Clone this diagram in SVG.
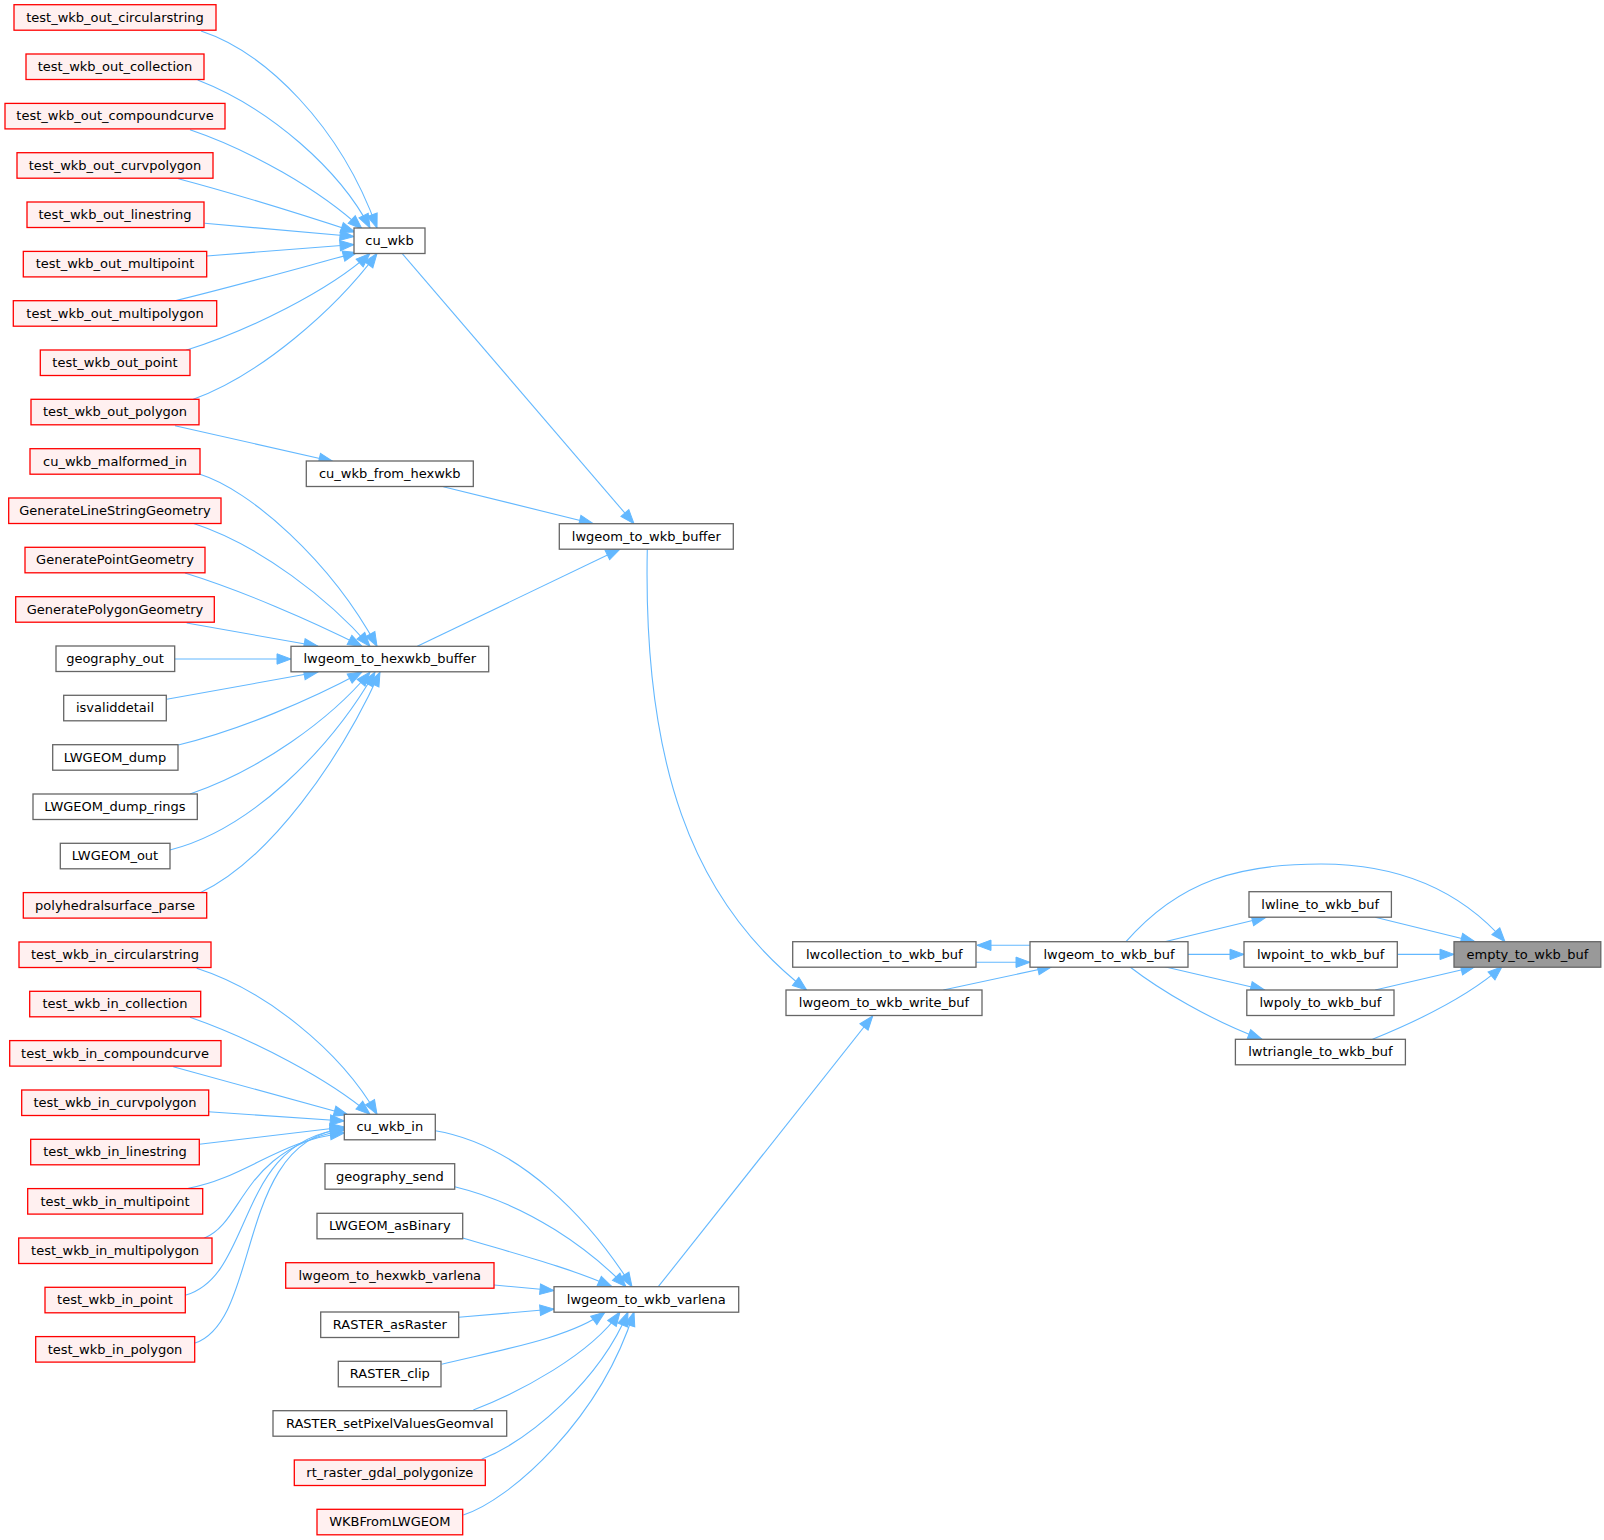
<svg xmlns="http://www.w3.org/2000/svg" width="1604" height="1540" viewBox="0 0 1604 1540">
<style>
rect{stroke-width:1.3}
.n rect{fill:#ffffff;stroke:#666666}
.r rect{fill:#fff0f0;stroke:#ff0000}
.root rect{fill:#999999;stroke:#666666}
text{font-family:"DejaVu Sans","Liberation Sans",sans-serif;font-size:13px;text-anchor:middle;fill:#000000}
#edges path{fill:none;stroke:#63b8ff;stroke-width:1.1;marker-end:url(#ah)}
</style>
<defs>
<marker id="ah" markerUnits="userSpaceOnUse" markerWidth="16" markerHeight="12" refX="14" refY="6" orient="auto" viewBox="0 0 16 12" overflow="visible">
<path d="M0,0.8 L14,6 L0,11.2 Z" fill="#63b8ff" stroke="#63b8ff" stroke-width="1"/>
</marker>
</defs>
<rect x="0" y="0" width="1604" height="1540" fill="#ffffff" stroke="none"/>
<g id="edges">
<path d="M201,31 C265,52 340,125 377,228"/>
<path d="M197.7,80 C270,108 340,170 370,228"/>
<path d="M190,129.7 C250,150 320,190 362,229"/>
<path d="M178.3,178.7 C240,195 300,214 355,232"/>
<path d="M204.7,223.3 L354,236.5"/>
<path d="M206.7,256 L354,244.5"/>
<path d="M174,301 C240,285 310,265 357,252.5"/>
<path d="M186,350.3 C250,330 330,290 370,253.5"/>
<path d="M193.3,399.3 C260,375 335,310 377,253.5"/>
<path d="M175,425.7 L333,461.5"/>
<path d="M200,474.3 C250,490 330,560 377,646.3"/>
<path d="M193,523.3 C260,545 330,600 370,646.3"/>
<path d="M185,573 C240,590 310,620 362,646.3"/>
<path d="M186.7,623 L318,646.3"/>
<path d="M174.7,659 L291,659"/>
<path d="M166.7,699.3 L318,672"/>
<path d="M178.3,745 C240,730 310,700 362,672"/>
<path d="M190,794 C260,770 330,720 370,672"/>
<path d="M170,850 C250,830 330,750 375,672"/>
<path d="M199.3,893.3 C270,860 340,760 380,672"/>
<path d="M196.7,968.3 C265,990 340,1050 377,1114.3"/>
<path d="M190,1017.3 C255,1040 330,1080 370,1114.3"/>
<path d="M173.3,1066.7 L348,1114.8"/>
<path d="M208.3,1111.7 L344.3,1121"/>
<path d="M199.3,1144.3 L344.3,1127"/>
<path d="M188.3,1188.3 C245,1178 280,1140 344.3,1133"/>
<path d="M204,1238.3 C245,1222 240,1150 344.3,1130"/>
<path d="M186,1295 C255,1275 235,1140 344.3,1129"/>
<path d="M195,1343 C262,1320 235,1140 344.3,1128.5"/>
<path d="M435.3,1130.7 C520,1145 590,1220 632,1286.7"/>
<path d="M454.7,1186.7 C530,1205 590,1250 626,1286.7"/>
<path d="M462.7,1238 C520,1255 570,1268 612,1286.7"/>
<path d="M494,1285 L554,1290.5"/>
<path d="M458.7,1317.3 L554,1309"/>
<path d="M441.7,1364.3 C500,1350 570,1338 605,1312"/>
<path d="M473.3,1410 C520,1392 590,1355 620,1312"/>
<path d="M481.7,1459.3 C530,1440 600,1380 628,1312"/>
<path d="M463.3,1515 C510,1500 600,1420 634,1312"/>
<path d="M401.7,253 L634,523.7"/>
<path d="M443.3,486.7 L593.3,523.7"/>
<path d="M417.3,646.3 L620,549"/>
<path d="M647.3,549 C643,760 690,900 806.7,990"/>
<path d="M658.3,1286.7 L872.7,1016"/>
<path d="M943.3,990 L1051.7,966.7"/>
<path d="M1030,945.3 L977,945.3"/>
<path d="M976,962.3 L1030,962.3"/>
<path d="M1164.7,941.7 L1266,917.3"/>
<path d="M1188,954.4 L1244,954.4"/>
<path d="M1164.7,966.7 L1264.6,990"/>
<path d="M1129.7,966.7 C1160,990 1210,1020 1262,1039.3"/>
<path d="M1126,941.7 C1180,880 1240,864 1321,864 C1400,864 1460,890 1505,941.7"/>
<path d="M1375.2,917.3 L1475,941.7"/>
<path d="M1397.3,954.4 L1454,954.4"/>
<path d="M1375.2,990 L1475,966.7"/>
<path d="M1372.5,1039.3 C1420,1020 1470,995 1502,966.7"/>
</g>
<g id="n0" class="r"><rect x="14" y="4.7" width="202" height="25.5"/><text x="115" y="21.7">test_wkb_out_circularstring</text></g>
<g id="n1" class="r"><rect x="26" y="54" width="178" height="25.5"/><text x="115" y="71">test_wkb_out_collection</text></g>
<g id="n2" class="r"><rect x="5" y="103.4" width="220" height="25.5"/><text x="115" y="120.4">test_wkb_out_compoundcurve</text></g>
<g id="n3" class="r"><rect x="17" y="152.7" width="196" height="25.5"/><text x="115" y="169.7">test_wkb_out_curvpolygon</text></g>
<g id="n4" class="r"><rect x="27" y="202" width="177" height="25.5"/><text x="115" y="219">test_wkb_out_linestring</text></g>
<g id="n5" class="r"><rect x="23.3" y="251.4" width="183.4" height="25.5"/><text x="115" y="268.4">test_wkb_out_multipoint</text></g>
<g id="n6" class="r"><rect x="13.3" y="300.7" width="203.4" height="25.5"/><text x="115" y="317.7">test_wkb_out_multipolygon</text></g>
<g id="n7" class="r"><rect x="40.3" y="350" width="149.7" height="25.5"/><text x="115" y="367">test_wkb_out_point</text></g>
<g id="n8" class="r"><rect x="31" y="399.3" width="168" height="25.5"/><text x="115" y="416.3">test_wkb_out_polygon</text></g>
<g id="n9" class="r"><rect x="30" y="448.7" width="170" height="25.5"/><text x="115" y="465.7">cu_wkb_malformed_in</text></g>
<g id="n10" class="r"><rect x="8.7" y="498" width="212.3" height="25.5"/><text x="115" y="515">GenerateLineStringGeometry</text></g>
<g id="n11" class="r"><rect x="25" y="547.3" width="180" height="25.5"/><text x="115" y="564.3">GeneratePointGeometry</text></g>
<g id="n12" class="r"><rect x="15.7" y="596.7" width="198.6" height="25.5"/><text x="115" y="613.7">GeneratePolygonGeometry</text></g>
<g id="n13" class="n"><rect x="56" y="646" width="118.7" height="25.5"/><text x="115" y="663">geography_out</text></g>
<g id="n14" class="n"><rect x="63.7" y="695.3" width="102.6" height="25.5"/><text x="115" y="712.3">isvaliddetail</text></g>
<g id="n15" class="n"><rect x="52.7" y="744.7" width="125.3" height="25.5"/><text x="115" y="761.7">LWGEOM_dump</text></g>
<g id="n16" class="n"><rect x="33" y="794" width="164.3" height="25.5"/><text x="115" y="811">LWGEOM_dump_rings</text></g>
<g id="n17" class="n"><rect x="60.3" y="843.3" width="109.7" height="25.5"/><text x="115" y="860.3">LWGEOM_out</text></g>
<g id="n18" class="r"><rect x="23.3" y="892.6" width="183.4" height="25.5"/><text x="115" y="909.6">polyhedralsurface_parse</text></g>
<g id="n19" class="r"><rect x="19" y="942" width="192" height="25.5"/><text x="115" y="959">test_wkb_in_circularstring</text></g>
<g id="n20" class="r"><rect x="29.7" y="991.3" width="171" height="25.5"/><text x="115" y="1008.3">test_wkb_in_collection</text></g>
<g id="n21" class="r"><rect x="9.7" y="1040.6" width="211.3" height="25.5"/><text x="115" y="1057.6">test_wkb_in_compoundcurve</text></g>
<g id="n22" class="r"><rect x="21.7" y="1090" width="187" height="25.5"/><text x="115" y="1107">test_wkb_in_curvpolygon</text></g>
<g id="n23" class="r"><rect x="30.7" y="1139.3" width="168.6" height="25.5"/><text x="115" y="1156.3">test_wkb_in_linestring</text></g>
<g id="n24" class="r"><rect x="27.7" y="1188.6" width="175" height="25.5"/><text x="115" y="1205.6">test_wkb_in_multipoint</text></g>
<g id="n25" class="r"><rect x="18.7" y="1238" width="193.3" height="25.5"/><text x="115" y="1255">test_wkb_in_multipolygon</text></g>
<g id="n26" class="r"><rect x="45" y="1287.3" width="140.3" height="25.5"/><text x="115" y="1304.3">test_wkb_in_point</text></g>
<g id="n27" class="r"><rect x="35.7" y="1336.6" width="159" height="25.5"/><text x="115" y="1353.6">test_wkb_in_polygon</text></g>
<g id="cu_wkb" class="n"><rect x="354" y="228" width="71" height="25.5"/><text x="389.5" y="245">cu_wkb</text></g>
<g id="cu_wkb_from_hexwkb" class="n"><rect x="306.3" y="461" width="167" height="25.5"/><text x="389.8" y="478">cu_wkb_from_hexwkb</text></g>
<g id="lwgeom_to_hexwkb_buffer" class="n"><rect x="291" y="646.3" width="197.7" height="25.5"/><text x="389.8" y="663.3">lwgeom_to_hexwkb_buffer</text></g>
<g id="cu_wkb_in" class="n"><rect x="344.3" y="1114.3" width="91" height="25.5"/><text x="389.8" y="1131.3">cu_wkb_in</text></g>
<g id="geography_send" class="n"><rect x="325" y="1163.7" width="129.7" height="25.5"/><text x="389.8" y="1180.7">geography_send</text></g>
<g id="LWGEOM_asBinary" class="n"><rect x="317" y="1213.3" width="145.7" height="25.5"/><text x="389.8" y="1230.3">LWGEOM_asBinary</text></g>
<g id="lwgeom_to_hexwkb_varlena" class="r"><rect x="285.7" y="1262.7" width="208.3" height="25.5"/><text x="389.8" y="1279.7">lwgeom_to_hexwkb_varlena</text></g>
<g id="RASTER_asRaster" class="n"><rect x="320.7" y="1312" width="138" height="25.5"/><text x="389.8" y="1329">RASTER_asRaster</text></g>
<g id="RASTER_clip" class="n"><rect x="338.3" y="1361.3" width="102.7" height="25.5"/><text x="389.8" y="1378.3">RASTER_clip</text></g>
<g id="RASTER_setPixelValuesGeomval" class="n"><rect x="273" y="1410.7" width="233.7" height="25.5"/><text x="389.8" y="1427.7">RASTER_setPixelValuesGeomval</text></g>
<g id="rt_raster_gdal_polygonize" class="r"><rect x="294.3" y="1460" width="191" height="25.5"/><text x="389.8" y="1477">rt_raster_gdal_polygonize</text></g>
<g id="WKBFromLWGEOM" class="r"><rect x="317" y="1509.3" width="145.7" height="25.5"/><text x="389.8" y="1526.3">WKBFromLWGEOM</text></g>
<g id="lwgeom_to_wkb_buffer" class="n"><rect x="559.3" y="523.7" width="174" height="25.5"/><text x="646.3" y="540.7">lwgeom_to_wkb_buffer</text></g>
<g id="lwgeom_to_wkb_varlena" class="n"><rect x="554" y="1286.7" width="184.7" height="25.5"/><text x="646.3" y="1303.7">lwgeom_to_wkb_varlena</text></g>
<g id="lwcollection_to_wkb_buf" class="n"><rect x="792.7" y="941.7" width="183.3" height="25.5"/><text x="884.3" y="958.7">lwcollection_to_wkb_buf</text></g>
<g id="lwgeom_to_wkb_write_buf" class="n"><rect x="786" y="990" width="196" height="25.5"/><text x="884" y="1007">lwgeom_to_wkb_write_buf</text></g>
<g id="lwgeom_to_wkb_buf" class="n"><rect x="1030" y="941.7" width="158" height="25.5"/><text x="1109" y="958.7">lwgeom_to_wkb_buf</text></g>
<g id="lwline_to_wkb_buf" class="n"><rect x="1249" y="891.7" width="142.4" height="25.5"/><text x="1320.2" y="908.7">lwline_to_wkb_buf</text></g>
<g id="lwpoint_to_wkb_buf" class="n"><rect x="1244" y="941.7" width="153.3" height="25.5"/><text x="1320.6" y="958.7">lwpoint_to_wkb_buf</text></g>
<g id="lwpoly_to_wkb_buf" class="n"><rect x="1246.8" y="990" width="147.2" height="25.5"/><text x="1320.4" y="1007">lwpoly_to_wkb_buf</text></g>
<g id="lwtriangle_to_wkb_buf" class="n"><rect x="1235.4" y="1039.3" width="170" height="25.5"/><text x="1320.4" y="1056.3">lwtriangle_to_wkb_buf</text></g>
<g id="empty_to_wkb_buf" class="root"><rect x="1454" y="941.7" width="146.8" height="25.5"/><text x="1527.4" y="958.7">empty_to_wkb_buf</text></g>
</svg>
